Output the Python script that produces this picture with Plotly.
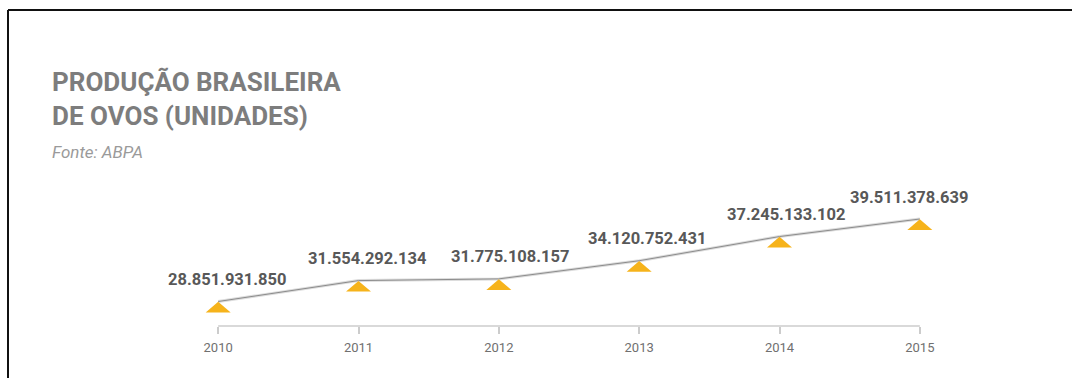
import plotly.graph_objects as go

years = [2010, 2011, 2012, 2013, 2014, 2015]
production = [28851931850, 31554292134, 31775108157, 34120752431, 37245133102, 39511378639]
labels = ["28.851.931.850", "31.554.292.134", "31.775.108.157",
          "34.120.752.431", "37.245.133.102", "39.511.378.639"]
tick_text = ["2010", "2011", "2012", "2013", "2014", "2015"]

title_text = "PRODUÇÃO BRASILEIRA<br>DE OVOS (UNIDADES)"
source_text = "Fonte: ABPA"

# styling
label_xshift = [9, 9, 12, 8, 7, -10]
W, H = 1072, 378
L, R, T, B = 148, 82, 190, 52
pw, ph = W - L - R, H - T - B

def px_x(p):
    return (p - L) / pw

def px_y(p):
    return (H - B - p) / ph

fig = go.Figure()

# halo of the line
fig.add_trace(go.Scatter(x=years, y=production, mode="lines",
                         line=dict(color="#dcdcdc", width=3.0),
                         hoverinfo="skip", showlegend=False, cliponaxis=False))
fig.add_trace(go.Scatter(x=years, y=production, mode="lines",
                         line=dict(color="#8c8c8c", width=1.0),
                         showlegend=False, cliponaxis=False))

shapes = []
# triangle markers (apex on data point), pixel-sized
for xv, yv in zip(years, production):
    shapes.append(dict(type="path", xref="x", yref="y",
                       xsizemode="pixel", ysizemode="pixel",
                       xanchor=xv, yanchor=yv,
                       path="M-12.5,-11 L12.5,-11 L0,-0.3 Z",
                       fillcolor="#F6B31B", line=dict(width=0), layer="above"))

# axis baseline from first to last year
shapes.append(dict(type="line", xref="x", yref="paper",
                   x0=years[0], x1=years[-1], y0=0, y1=0,
                   line=dict(color="#cccccc", width=1.6)))

# frame (top and left borders)
shapes.append(dict(type="line", xref="paper", yref="paper",
                   x0=px_x(8), x1=px_x(1080), y0=px_y(10), y1=px_y(10),
                   line=dict(color="#111111", width=2)))
shapes.append(dict(type="line", xref="paper", yref="paper",
                   x0=px_x(8), x1=px_x(8), y0=px_y(10), y1=px_y(390),
                   line=dict(color="#111111", width=2)))

annotations = []
for xv, yv, t, xs in zip(years, production, labels, label_xshift):
    annotations.append(dict(x=xv, y=yv, xref="x", yref="y", text=t,
                            showarrow=False, xanchor="center", yanchor="middle",
                            xshift=xs, yshift=22,
                            font=dict(family="Roboto", size=16.5, color="#585858",
                                      weight="bold")))

annotations.append(dict(x=px_x(50), y=px_y(65), xref="paper", yref="paper",
                        text=title_text, showarrow=False, xanchor="left",
                        yanchor="top", align="left",
                        font=dict(family="Roboto", size=26, color="#7d7d7d",
                                  weight="bold")))
annotations.append(dict(x=px_x(50), y=px_y(140), xref="paper", yref="paper",
                        text="<i>" + source_text + "</i>", showarrow=False,
                        xanchor="left", yanchor="top", align="left",
                        font=dict(family="Roboto", size=17, color="#9a9a9a")))

fig.update_layout(
    width=W, height=H,
    margin=dict(l=L, r=R, t=T, b=B, pad=0),
    paper_bgcolor="white", plot_bgcolor="white",
    shapes=shapes, annotations=annotations,
    xaxis=dict(range=[2009.5, 2015.5], tickmode="array", tickvals=years,
               ticktext=tick_text, showgrid=False, zeroline=False,
               showline=False, ticks="outside", ticklen=7, tickwidth=1.6,
               tickcolor="#cccccc", ticklabelstandoff=2,
               tickfont=dict(family="Roboto", size=13, color="#707070")),
    yaxis=dict(range=[25.686e9, 43.26e9], visible=False, showgrid=False,
               zeroline=False),
    showlegend=False,
)

fig.write_html("out.html")
